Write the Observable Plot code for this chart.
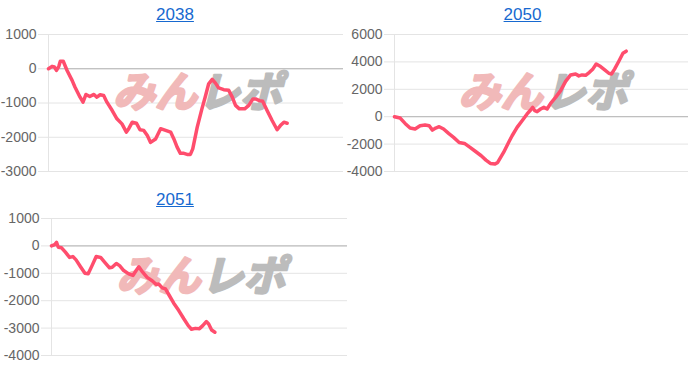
<!DOCTYPE html>
<html>
<head>
<meta charset="utf-8">
<script src="https://cdn.jsdelivr.net/npm/d3@7"></script>
<script src="https://cdn.jsdelivr.net/npm/@observablehq/plot@0.6"></script>
<style>
  body { margin: 0; background: #fff; font-family: "Liberation Sans", Arial, Helvetica, sans-serif; }
  #root { position: relative; width: 700px; height: 366px; }
  .panel { position: absolute; }
  .title { height: 22px; padding-top: 4px; line-height: 22px; text-align: center; font-size: 17px; }
  .title a { color: #1769d0; text-decoration: underline; }
  .panel svg { display: block; overflow: visible; }
</style>
</head>
<body>
<div id="root"></div>
<script>
// ---- data ----
const titles = ["2038", "2050", "2051"];

const x2038 = [0,1.2,2,2.7,3.5,4,5,6.3,8,9,10.7,11.7,12.7,14,15.4,16.4,17.5,18.7,19.8,21.6,23.2,24.9,26.4,27.2,28.4,29.8,31,32.3,33.5,34.6,36.3,38,39.7,41.4,42.5,43.6,44.7,45.9,47,48.1,48.9,50.4,52,53.1,54.3,55.5,56.6,57.7,59.4,61.1,62.3,63.4,64.7,66.5,67.9,69.3,70.2,71.5,72.6,74.1,75.8,77.5,78.6,79.8,80.9];
const y2038 = [0,70,50,-50,70,220,220,-50,-340,-540,-830,-975,-750,-810,-750,-830,-760,-780,-975,-1220,-1460,-1610,-1850,-1750,-1560,-1590,-1780,-1800,-1950,-2150,-2050,-1750,-1800,-1850,-2050,-2290,-2470,-2470,-2500,-2500,-2340,-1710,-1170,-830,-440,-310,-420,-560,-610,-630,-830,-1070,-1170,-1170,-1070,-880,-880,-930,-950,-1220,-1510,-1780,-1660,-1560,-1590];

const x2050 = [0,1.9,3.6,5.3,7,8.7,10.4,11.8,12.9,14,15.2,16.7,18.4,20.1,22,23.8,25.7,27.7,29.5,31.1,32.6,34.2,35.1,37.1,38.8,40,41.7,43.4,45.1,46.3,47,47.7,48.5,49.7,50.8,51.9,53.1,54.8,56.5,58.2,59.9,61.6,62.7,63.8,65,66.3,67.5,68.6,70.1,71.5,72.9,73.8,74.9,76.3,77.7,78.8];
const y2050 = [0,-100,-490,-830,-900,-660,-610,-660,-980,-830,-730,-900,-1220,-1510,-1880,-1950,-2240,-2560,-2850,-3170,-3410,-3460,-3340,-2610,-1880,-1390,-780,-290,200,490,680,440,370,560,680,560,970,1410,1900,2580,3050,3120,2980,3050,3020,3240,3490,3850,3660,3420,3170,3120,3490,4050,4630,4780];

const x2051 = [0,1.1,1.7,2.3,3.4,4.7,6.1,7.2,8.3,9.8,11.3,12.4,13.7,15.1,16.6,18,19.6,20.5,21.9,23,24.4,26.1,27.5,28.6,29.5,30.8,32.3,34,35.4,36.2,37.4,38.5,39.8,41.3,43,44.7,46.2,47.3,48.6,50,51.1,52.3,53.1,54.1,55.2];
const y2051 = [0,50,130,-50,-70,-230,-420,-390,-510,-760,-1000,-1020,-720,-390,-420,-600,-800,-780,-640,-720,-900,-1020,-1080,-900,-760,-960,-1150,-1270,-1410,-1390,-1530,-1570,-1810,-2090,-2360,-2660,-2910,-3040,-3010,-3020,-2910,-2760,-2850,-3070,-3150];

const ticks2038 = [-3000,-2000,-1000,0,1000];
const ticks2050 = [-4000,-2000,0,2000,4000,6000];
const ticks2051 = [-4000,-3000,-2000,-1000,0,1000];

const xDomain = [0, 100];
const watermarkA = "みん";
const watermarkB = "レポ";

// ---- layout (styles only) ----
const panels = [
  {title: titles[0], xs: x2038, ys: y2038, ticks: ticks2038, left: 0, top: 0, width: 350, ml: 48, mr: 7, mt: 8, mb: 6, h: 151},
  {title: titles[1], xs: x2050, ys: y2050, ticks: ticks2050, left: 345, top: 0, width: 355, ml: 49, mr: 12, mt: 8, mb: 6, h: 151},
  {title: titles[2], xs: x2051, ys: y2051, ticks: ticks2051, left: 0, top: 185, width: 350, ml: 51, mr: 3, mt: 7, mb: 6, h: 150}
];

const wmFont = '"Noto Sans CJK JP", sans-serif';
const root = document.getElementById("root");
for (const p of panels) {
  const div = document.createElement("div");
  div.className = "panel";
  div.style.left = p.left + "px";
  div.style.top = p.top + "px";
  div.style.width = p.width + "px";
  const t = document.createElement("div");
  t.className = "title";
  const a = document.createElement("a");
  a.href = "#";
  a.textContent = p.title;
  t.appendChild(a);
  div.appendChild(t);

  const data = p.xs.map((x, i) => ({x, y: p.ys[i]}));
  const chart = Plot.plot({
    width: p.width,
    height: p.h,
    marginLeft: p.ml,
    marginRight: p.mr,
    marginTop: p.mt,
    marginBottom: p.mb,
    style: {fontFamily: '"Liberation Sans", Arial, Helvetica, sans-serif', fontSize: "14px", background: "transparent", overflow: "visible"},
    x: {domain: xDomain, axis: null},
    y: {domain: d3.extent(p.ticks), axis: null},
    marks: [
      Plot.gridY(p.ticks, {stroke: "#e4e4e4", strokeOpacity: 1}),
      Plot.frame({anchor: "left", stroke: "#e4e4e4"}),
      Plot.ruleY([0], {stroke: "#b5b5b5"}),
      Plot.axisY(p.ticks, {tickSize: 10, tickPadding: 2, stroke: "#e4e4e4", fill: "#666", fontSize: 14, label: null, tickFormat: d => String(d)}),
      Plot.text([watermarkA], {frameAnchor: "middle", text: d => d, textAnchor: "end", dy: -9, dx: 1, fontSize: 42, fontWeight: "bold", fontStyle: "italic", fill: "#f1b9b9", stroke: "#f1b9b9", strokeWidth: 2.5, fontFamily: wmFont}),
      Plot.text([watermarkB], {frameAnchor: "middle", text: d => d, textAnchor: "start", dy: -9, dx: 2, fontSize: 42, fontWeight: "bold", fontStyle: "italic", fill: "#bcbcbc", stroke: "#bcbcbc", strokeWidth: 2.5, fontFamily: wmFont}),
      Plot.line(data, {x: "x", y: "y", stroke: "#ff4d6d", strokeWidth: 3.5, strokeLinejoin: "round", strokeLinecap: "round"})
    ]
  });
  div.appendChild(chart);
  root.appendChild(div);
}
</script>
</body>
</html>
